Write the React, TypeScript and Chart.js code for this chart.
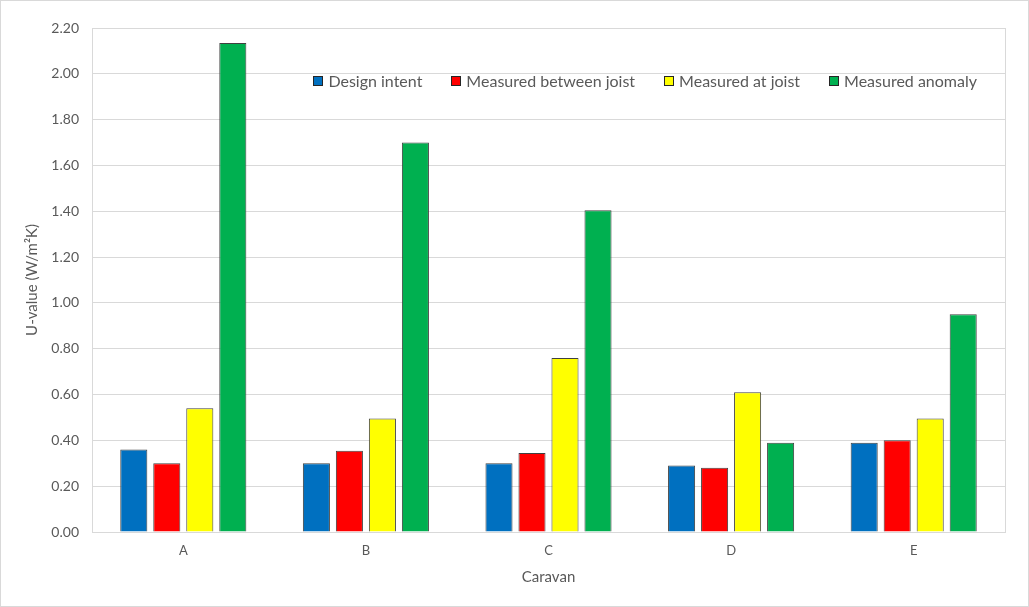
import React, { useEffect, useRef } from "react";
import { Chart, registerables } from "chart.js";

Chart.register(...registerables);

const categories = ["A", "B", "C", "D", "E"];
const designIntent = [0.36, 0.3, 0.3, 0.29, 0.39];
const measuredBetweenJoist = [0.3, 0.355, 0.345, 0.28, 0.4];
const measuredAtJoist = [0.54, 0.495, 0.76, 0.61, 0.495];
const measuredAnomaly = [2.135, 1.7, 1.405, 0.39, 0.95];
const seriesNames = ["Design intent", "Measured between joist", "Measured at joist", "Measured anomaly"];
const seriesColors = ["#0070C0", "#FF0000", "#FFFF00", "#00B050"];
const yMax = 2.2;
const yStep = 0.2;

const FONT = "Lato, 'Open Sans', sans-serif";
const TEXT = "#595959";
const GRID = "#d9d9d9";

export default function App() {
  const ref = useRef<HTMLCanvasElement | null>(null);

  useEffect(() => {
    document.body.style.margin = "0";
    const seriesData = [designIntent, measuredBetweenJoist, measuredAtJoist, measuredAnomaly];

    const frame = {
      id: "plotFrame",
      beforeDatasetsDraw(chart: any) {
        const { ctx, chartArea: a } = chart;
        ctx.save();
        ctx.strokeStyle = GRID;
        ctx.lineWidth = 1;
        ctx.strokeRect(Math.round(a.left) + 0.5, Math.round(a.top) + 0.5, Math.round(a.right - a.left), Math.round(a.bottom - a.top));
        ctx.restore();
      },
    };

    const insideLegend = {
      id: "insideLegend",
      afterDraw(chart: any) {
        const { ctx, chartArea: a } = chart;
        ctx.save();
        ctx.font = `16px ${FONT}`;
        ctx.textBaseline = "middle";
        const box = 10;
        const textGap = 5;
        const itemGap = 29;
        const widths = seriesNames.map((n) => box + textGap + ctx.measureText(n).width);
        const total = widths.reduce((s, w) => s + w, 0) + itemGap * (seriesNames.length - 1);
        let x = a.right - 28 - total;
        const y = a.top + 53;
        seriesNames.forEach((n, i) => {
          ctx.fillStyle = seriesColors[i];
          ctx.fillRect(Math.round(x), Math.round(y - box / 2), box, box);
          ctx.strokeStyle = "#262626";
          ctx.lineWidth = 1;
          ctx.strokeRect(Math.round(x) + 0.5, Math.round(y - box / 2) + 0.5, box - 1, box - 1);
          ctx.fillStyle = TEXT;
          ctx.fillText(n, x + box + textGap, y + 1);
          x += widths[i] + itemGap;
        });
        ctx.restore();
      },
    };

    const chart = new Chart(ref.current as HTMLCanvasElement, {
      type: "bar",
      data: {
        labels: categories,
        datasets: seriesNames.map((name, i) => ({
          label: name,
          data: seriesData[i],
          backgroundColor: seriesColors[i],
          borderColor: "#404040",
          borderWidth: 1,
          categoryPercentage: 0.723,
          barPercentage: 0.82,
        })),
      },
      options: {
        responsive: false,
        animation: false,
        layout: { padding: { top: 27, right: 23, bottom: 14, left: 10 } },
        plugins: {
          legend: { display: false },
          tooltip: { enabled: false },
        },
        scales: {
          x: {
            grid: { display: false, drawTicks: false },
            border: { color: GRID },
            ticks: { color: TEXT, font: { family: FONT, size: 13 }, padding: 11 },
            title: {
              display: true,
              text: "Caravan",
              color: TEXT,
              font: { family: FONT, size: 15 },
              padding: { top: 4, bottom: 6 },
            },
            afterFit: (s: any) => {
              s.height = 60;
            },
          },
          y: {
            min: 0,
            max: yMax,
            grid: { color: GRID, drawTicks: false },
            border: { color: GRID },
            ticks: {
              stepSize: yStep,
              color: TEXT,
              font: { family: FONT, size: 14 },
              padding: 13,
              callback: (v: any) => Number(v).toFixed(2),
            },
            title: {
              display: true,
              text: "U-value (W/m²K)",
              color: TEXT,
              font: { family: FONT, size: 15 },
              padding: { top: 12, bottom: 4 },
            },
            afterFit: (s: any) => {
              s.width = 81;
            },
          },
        },
      },
      plugins: [frame, insideLegend],
    });
    return () => chart.destroy();
  }, []);

  return (
    <div
      style={{
        width: 1029,
        height: 607,
        boxSizing: "border-box",
        border: "1px solid #d9d9d9",
        background: "#ffffff",
      }}
    >
      <canvas ref={ref} width={1027} height={605} style={{ display: "block" }} />
    </div>
  );
}
